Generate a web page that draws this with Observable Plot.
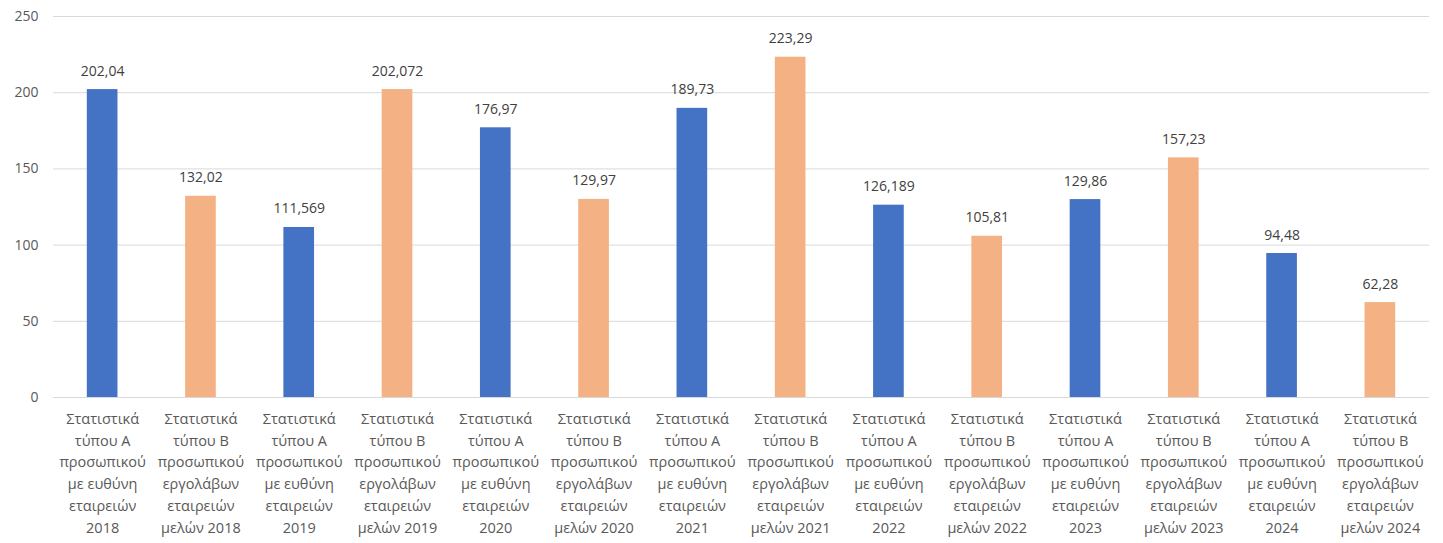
<!DOCTYPE html>
<html>
<head>
<meta charset="utf-8">
<script src="https://cdn.jsdelivr.net/npm/d3@7"></script>
<script src="https://cdn.jsdelivr.net/npm/@observablehq/plot@0.6"></script>
<style>
  html, body { margin: 0; padding: 0; background: #fff; }
  #chart svg { display: block; }
</style>
</head>
<body>
<div id="chart"></div>
<script>
const years = ["2018", "2019", "2020", "2021", "2022", "2023", "2024"];
const typeA = [202.04, 111.569, 176.97, 189.73, 126.189, 129.86, 94.48];
const typeB = [132.02, 202.072, 129.97, 223.29, 105.81, 157.23, 62.28];
const yTicks = [0, 50, 100, 150, 200, 250];
const labelA = (y) => `Στατιστικά\nτύπου Α\nπροσωπικού\nμε ευθύνη\nεταιρειών\n${y}`;
const labelB = (y) => `Στατιστικά\nτύπου Β\nπροσωπικού\nεργολάβων\nεταιρειών\nμελών ${y}`;
const colorA = "#4472C4";
const colorB = "#F4B183";

const data = [];
years.forEach((y, i) => {
  data.push({cat: labelA(y), value: typeA[i], type: "A"});
  data.push({cat: labelB(y), value: typeB[i], type: "B"});
});
const fmt = (v) => String(v).replace(".", ",");

const chart = Plot.plot({
  width: 1443,
  height: 543,
  marginLeft: 53,
  marginRight: 14,
  marginTop: 16,
  marginBottom: 146,
  style: {fontFamily: "'Open Sans', sans-serif", fontSize: "14px", color: "#595959", background: "#fff"},
  x: {domain: data.map(d => d.cat), paddingInner: 0.688, paddingOuter: 0.344, round: false, label: null},
  y: {domain: [0, 250], ticks: yTicks, label: null},
  color: {domain: ["A", "B"], range: [colorA, colorB]},
  marks: [
    Plot.gridY(yTicks, {stroke: "#d9d9d9", strokeOpacity: 1}),
    Plot.barY(data, {x: "cat", y: "value", fill: "type"}),
    Plot.text(data, {x: "cat", y: "value", text: d => fmt(d.value), dy: -14, lineAnchor: "bottom", fill: "#404040", fontSize: 14}),
    Plot.axisY(yTicks, {tickSize: 0, tickPadding: 15, fill: "#595959", fontSize: 14, label: null}),
    Plot.axisX({tickSize: 0, tickPadding: 11, lineHeight: 1.5, fill: "#595959", fontSize: 14.5, label: null, textOverflow: null, lineWidth: 20}),
    Plot.ruleY([0], {stroke: "#d9d9d9"})
  ]
});
document.getElementById("chart").append(chart);
</script>
</body>
</html>
